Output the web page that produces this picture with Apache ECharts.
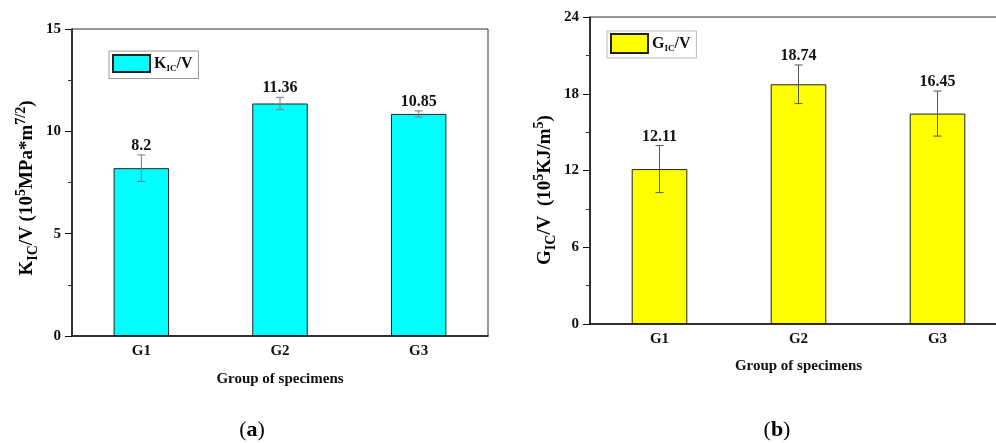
<!DOCTYPE html>
<html>
<head>
<meta charset="utf-8">
<script src="https://cdn.jsdelivr.net/npm/echarts@6/dist/echarts.min.js"></script>
<style>
  html, body { margin: 0; padding: 0; background: #fff; overflow: hidden; }
  #chart { width: 1012px; height: 443px; }
</style>
</head>
<body>
<div id="chart"></div>
<script>
// Specimen groups
const categories = ['G1', 'G2', 'G3'];

// K_IC/V per group and its scatter
const kicValues = [8.2, 11.36, 10.85];
const kicErrors = [0.65, 0.3, 0.15];

// G_IC/V per group and its scatter
const gicValues = [12.11, 18.74, 16.45];
const gicErrors = [1.84, 1.51, 1.76];

// Y axis scales
const kicAxis = { min: 0, max: 15, interval: 5 };
const gicAxis = { min: 0, max: 24, interval: 6 };

const FONT = '"Liberation Serif", "Times New Roman", serif';

const chart = echarts.init(document.getElementById('chart'), null, { renderer: 'canvas' });

// Error bar with a value caption above the whisker
function errorBarRenderer(values, errors, color) {
  return function (params, api) {
    const i = params.dataIndex;
    const v = values[i], e = errors[i];
    const top = api.coord([i, v + e]);
    const bot = api.coord([i, v - e]);
    const cap = 4;
    return {
      type: 'group',
      children: [
        { type: 'line', shape: { x1: top[0], y1: top[1], x2: bot[0], y2: bot[1] }, style: { stroke: color, lineWidth: 1 } },
        { type: 'line', shape: { x1: top[0] - cap, y1: top[1], x2: top[0] + cap, y2: top[1] }, style: { stroke: color, lineWidth: 1 } },
        { type: 'line', shape: { x1: bot[0] - cap, y1: bot[1], x2: bot[0] + cap, y2: bot[1] }, style: { stroke: color, lineWidth: 1 } },
        {
          type: 'text', x: top[0], y: top[1] - 1,
          style: { text: String(v), font: 'bold 16px ' + FONT, fill: '#111', align: 'center', verticalAlign: 'bottom' }
        }
      ]
    };
  };
}

function yAxisFor(gridIndex, scale) {
  return {
    type: 'value', gridIndex: gridIndex,
    min: scale.min, max: scale.max, interval: scale.interval,
    axisLine: { show: true, lineStyle: { color: '#111', width: 1.5 } },
    axisTick: { show: true, inside: false, length: 7, lineStyle: { color: '#111', width: 1 } },
    minorTick: { show: true, splitNumber: 2, length: 4, lineStyle: { color: '#333', width: 1 } },
    splitLine: { show: false },
    axisLabel: { fontFamily: FONT, fontWeight: 'bold', fontSize: 15, color: '#111', margin: 11 }
  };
}

function xAxisFor(gridIndex, gap) {
  return {
    type: 'category', gridIndex: gridIndex, data: categories,
    axisLine: { show: true, lineStyle: { color: '#111', width: 1.5 } },
    axisTick: { show: false },
    axisLabel: { fontFamily: FONT, fontWeight: 'bold', fontSize: 15, color: '#111', margin: 8 },
    name: 'Group of specimens', nameLocation: 'middle', nameGap: gap,
    nameTextStyle: { fontFamily: FONT, fontWeight: 'bold', fontSize: 15, color: '#111' }
  };
}

const legendRich = {
  m: { fontFamily: FONT, fontWeight: 'bold', fontSize: 16, color: '#111', lineHeight: 20, verticalAlign: 'middle' },
  s: { fontFamily: FONT, fontWeight: 'bold', fontSize: 9, color: '#111', lineHeight: 9, verticalAlign: 'bottom' }
};

const titleRich = {
  m: { fontFamily: FONT, fontWeight: 'bold', fontSize: 19, color: '#111', lineHeight: 26, verticalAlign: 'middle' },
  s: { fontFamily: FONT, fontWeight: 'bold', fontSize: 14, color: '#111', lineHeight: 13, verticalAlign: 'bottom' },
  u: { fontFamily: FONT, fontWeight: 'bold', fontSize: 14, color: '#111', lineHeight: 11, verticalAlign: 'top' }
};

const captionRich = {
  p: { fontFamily: FONT, fontSize: 22, color: '#111' },
  b: { fontFamily: FONT, fontWeight: 'bold', fontSize: 22, color: '#111' }
};

chart.setOption({
  animation: false,
  backgroundColor: '#fff',
  grid: [
    { left: 72, top: 29, width: 416, height: 307, show: true, borderColor: '#333', borderWidth: 1, backgroundColor: 'transparent' },
    { left: 590, top: 17, width: 417, height: 307, show: true, borderColor: '#333', borderWidth: 1, backgroundColor: 'transparent' }
  ],
  legend: [
    {
      left: 109, top: 51, data: ['K_IC/V'], orient: 'horizontal', icon: 'rect',
      itemWidth: 37, itemHeight: 17, itemGap: 4,
      padding: [3, 6, 5, 3], borderColor: '#999', borderWidth: 1, backgroundColor: '#fff',
      formatter: () => '{m|K}{s|IC}{m|/V}',
      textStyle: { rich: legendRich, padding: [0, 0, 0, -1] }
    },
    {
      left: 607, top: 31, data: ['G_IC/V'], orient: 'horizontal', icon: 'rect',
      itemWidth: 37, itemHeight: 19, itemGap: 4,
      padding: [2, 6, 4, 3], borderColor: '#bbb', borderWidth: 1, backgroundColor: '#fff',
      formatter: () => '{m|G}{s|IC}{m|/V}',
      textStyle: { rich: legendRich, padding: [0, 0, 0, -1] }
    }
  ],
  xAxis: [xAxisFor(0, 36), xAxisFor(1, 35)],
  yAxis: [yAxisFor(0, kicAxis), yAxisFor(1, gicAxis)],
  series: [
    {
      name: 'K_IC/V', type: 'bar', xAxisIndex: 0, yAxisIndex: 0,
      data: kicValues, barWidth: '40%',
      itemStyle: { color: '#00FFFF', borderColor: '#222', borderWidth: 1 }
    },
    {
      type: 'custom', xAxisIndex: 0, yAxisIndex: 0,
      data: kicValues.map((v, i) => [i, v]),
      renderItem: errorBarRenderer(kicValues, kicErrors, '#7a7a7a'), z: 5
    },
    {
      name: 'G_IC/V', type: 'bar', xAxisIndex: 1, yAxisIndex: 1,
      data: gicValues, barWidth: '40%',
      itemStyle: { color: '#FFFF00', borderColor: '#222', borderWidth: 1 }
    },
    {
      type: 'custom', xAxisIndex: 1, yAxisIndex: 1,
      data: gicValues.map((v, i) => [i, v]),
      renderItem: errorBarRenderer(gicValues, gicErrors, '#555'), z: 5
    }
  ],
  graphic: [
    {
      type: 'text', x: 27, y: 188, rotation: Math.PI / 2,
      style: {
        text: '{m|K}{s|IC}{m|/V (10}{u|5}{m|MPa*m}{u|7/2}{m|)}',
        rich: titleRich, align: 'center', verticalAlign: 'middle'
      }
    },
    {
      type: 'text', x: 545, y: 190, rotation: Math.PI / 2,
      style: {
        text: '{m|G}{s|IC}{m|/V  (10}{u|5}{m|KJ/m}{u|5}{m|)}',
        rich: titleRich, align: 'center', verticalAlign: 'middle'
      }
    },
    {
      type: 'text', x: 252, y: 430,
      style: { text: '{p|(}{b|a}{p|)}', rich: captionRich, align: 'center', verticalAlign: 'middle' }
    },
    {
      type: 'text', x: 777, y: 430,
      style: { text: '{p|(}{b|b}{p|)}', rich: captionRich, align: 'center', verticalAlign: 'middle' }
    }
  ]
});
</script>
</body>
</html>
